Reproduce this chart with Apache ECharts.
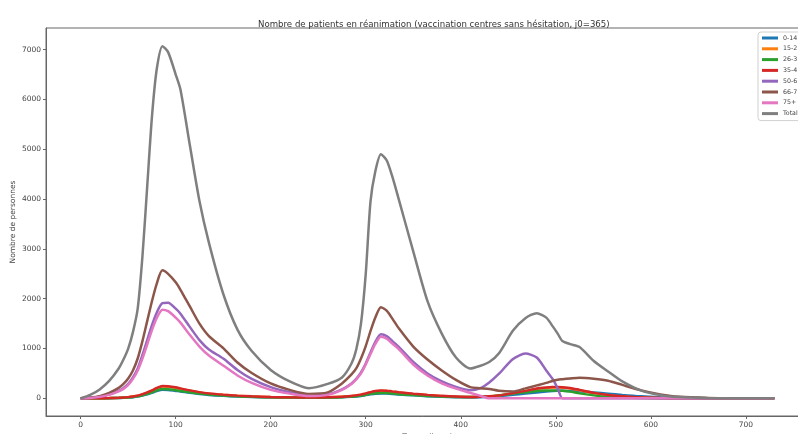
<!DOCTYPE html>
<html>
<head>
<meta charset="utf-8">
<script src="https://cdn.jsdelivr.net/npm/echarts@6.0.0/dist/echarts.min.js"></script>
<style>html,body{margin:0;padding:0;background:#fff;}#chart{width:798px;height:434px;}</style>
</head>
<body>
<div id="chart"></div>
<script>
const titleText = "Nombre de patients en réanimation (vaccination centres sans hésitation, j0=365)";
const xName = "Temps (jours)";
const yName = "Nombre de personnes";
const xTicks = [0, 100, 200, 300, 400, 500, 600, 700];
const yTicks = [0, 1000, 2000, 3000, 4000, 5000, 6000, 7000];
const seriesNames = ["0-14", "15-2", "26-3", "35-4", "50-6", "66-7", "75+", "Total"];
const colors = ["#1f77b4", "#ff7f0e", "#2ca02c", "#d62728", "#9467bd", "#8c564b", "#e377c2", "#7f7f7f"];

const days = [0,10,20,30,40,45,50,55,60,65,
  70,75,80,86,92,100,105,115,125,135,
  150,165,180,200,220,240,260,275,285,290,
  295,300,305,310,316,322,328,335,350,365,
  380,395,410,420,430,440,455,468,480,490,
  497,502,507,515,525,540,555,570,590,610,
  630,660,700,730];

const age0_14 = [0,1,2,4,8,11,16,24,36,56,
  82,110,145,173,170,150,138,110,87,68,
  50,37,27,18,13,10,14,21,31,39,
  49,65,80,93,100,97,90,78,60,44,
  32,24,18,22,30,45,70,95,120,138,
  147,151,152,150,140,120,95,68,40,22,
  10,3,1,0];
const age15_2 = [0,1,3,6,11,16,24,36,52,81,
  114,152,200,238,233,211,190,152,119,95,
  71,52,38,26,19,16,21,30,46,57,
  71,95,119,141,152,147,133,119,90,67,
  48,33,27,30,40,57,100,143,190,209,
  216,217,214,200,162,105,65,38,15,7,
  3,1,0,0];
const age26_3 = [0,1,2,4,9,13,18,27,40,62,
  90,122,160,190,185,165,150,120,95,75,
  55,40,30,20,15,12,16,24,35,44,
  55,72,90,103,110,106,98,85,65,48,
  35,27,25,30,40,60,95,125,150,158,
  160,158,152,135,100,60,30,15,6,2,
  1,0,0,0];
const age35_4 = [0,1,3,6,12,17,25,38,55,85,
  120,160,210,250,245,222,200,160,125,100,
  75,55,40,27,20,17,22,32,48,60,
  75,100,125,148,160,155,140,125,95,70,
  50,35,28,32,42,60,105,150,200,220,
  227,228,225,210,170,110,68,40,16,7,
  3,1,0,0];
const age50_6 = [0,10,35,80,150,210,290,420,600,870,
  1170,1470,1720,1910,1920,1800,1700,1430,1170,980,
  800,570,390,225,125,60,80,180,300,390,
  520,700,920,1130,1285,1250,1150,1030,730,500,
  340,230,165,200,320,490,790,900,820,560,
  380,200,0,0,0,0,0,0,0,0,
  0,0,0,0];
const age66_7 = [0,15,45,110,210,290,400,560,800,1150,
  1550,1950,2300,2570,2500,2330,2180,1840,1500,1250,
  1010,720,510,300,170,90,120,300,480,600,
  800,1050,1350,1620,1830,1760,1600,1400,1040,780,
  560,370,225,205,190,155,140,200,260,310,
  355,375,385,400,415,395,355,270,160,80,
  30,8,2,0];
const age75 = [0,8,30,70,140,190,270,390,560,800,
  1080,1370,1610,1780,1750,1620,1520,1270,1040,860,
  660,460,310,170,95,45,70,170,290,380,
  500,680,890,1090,1235,1200,1100,985,680,460,
  300,195,110,55,0,0,0,0,0,0,
  0,0,0,0,0,0,0,0,0,0,
  0,0,0,0];
const total = [0,70,180,350,600,780,1000,1330,1800,2850,
  4250,5650,6600,7070,6950,6500,6200,5070,3960,3120,
  2100,1380,950,570,340,205,290,420,700,980,
  1500,2500,3950,4550,4900,4780,4450,3980,2950,1950,
  1300,820,600,650,730,900,1360,1610,1710,1620,
  1440,1300,1150,1090,1030,750,540,340,155,65,
  25,8,2,0];

const allValues = [age0_14, age15_2, age26_3, age35_4, age50_6, age66_7, age75, total];
const FONT = "DejaVu Sans";

const chart = echarts.init(document.getElementById('chart'), null, {renderer: 'canvas'});
chart.setOption({
  animation: false,
  backgroundColor: '#ffffff',
  title: {
    text: titleText,
    left: 253, top: 15,
    textStyle: {fontFamily: FONT, fontSize: 8.6, fontWeight: 'normal', color: '#333'}
  },
  legend: {
    orient: 'vertical',
    left: 758, top: 32,
    padding: [2, 4, 3, 4],
    itemWidth: 16, itemHeight: 3, itemGap: 2.8,
    icon: 'rect',
    backgroundColor: 'rgba(255,255,255,0.85)',
    borderColor: '#d0d0d0', borderWidth: 1, borderRadius: 3,
    textStyle: {fontFamily: FONT, fontSize: 6.3, lineHeight: 8, color: '#444'},
    data: seriesNames
  },
  grid: {
    left: 46, top: 28, width: 763, height: 388,
    outerBoundsMode: 'none',
    containLabel: false,
    show: true, borderColor: '#666', borderWidth: 1, backgroundColor: 'transparent'
  },
  xAxis: {
    type: 'value', min: -36.5, max: 766.5,
    name: xName, nameLocation: 'middle', nameGap: 17, nameMoveOverlap: false,
    nameTextStyle: {fontFamily: FONT, fontSize: 7.5, color: '#444'},
    axisLine: {show: true, onZero: false, lineStyle: {color: '#666', width: 1}},
    axisTick: {show: true, length: 3, inside: false, customValues: xTicks, lineStyle: {color: '#666'}},
    axisLabel: {customValues: xTicks, fontFamily: FONT, fontSize: 7.5, color: '#444', margin: 5,
      formatter: v => String(v)},
    splitLine: {show: false}
  },
  yAxis: {
    type: 'value', min: -354, max: 7434,
    name: yName, nameLocation: 'middle', nameGap: 29, nameMoveOverlap: false,
    nameTextStyle: {fontFamily: FONT, fontSize: 7.5, color: '#444'},
    axisLine: {show: true, onZero: false, lineStyle: {color: '#666', width: 1}},
    axisTick: {show: true, length: 3, inside: false, customValues: yTicks, lineStyle: {color: '#666'}},
    axisLabel: {customValues: yTicks, fontFamily: FONT, fontSize: 7.5, color: '#444', margin: 5,
      formatter: v => String(v)},
    splitLine: {show: false}
  },
  series: seriesNames.map((name, k) => ({
    name: name,
    type: 'line',
    data: days.map((d, i) => [d, allValues[k][i]]),
    showSymbol: false,
    symbol: 'none',
    smooth: 0.25,
    lineStyle: {width: 2.5, color: colors[k]},
    itemStyle: {color: colors[k]},
    z: 2 + k
  }))
});
</script>
</body>
</html>
